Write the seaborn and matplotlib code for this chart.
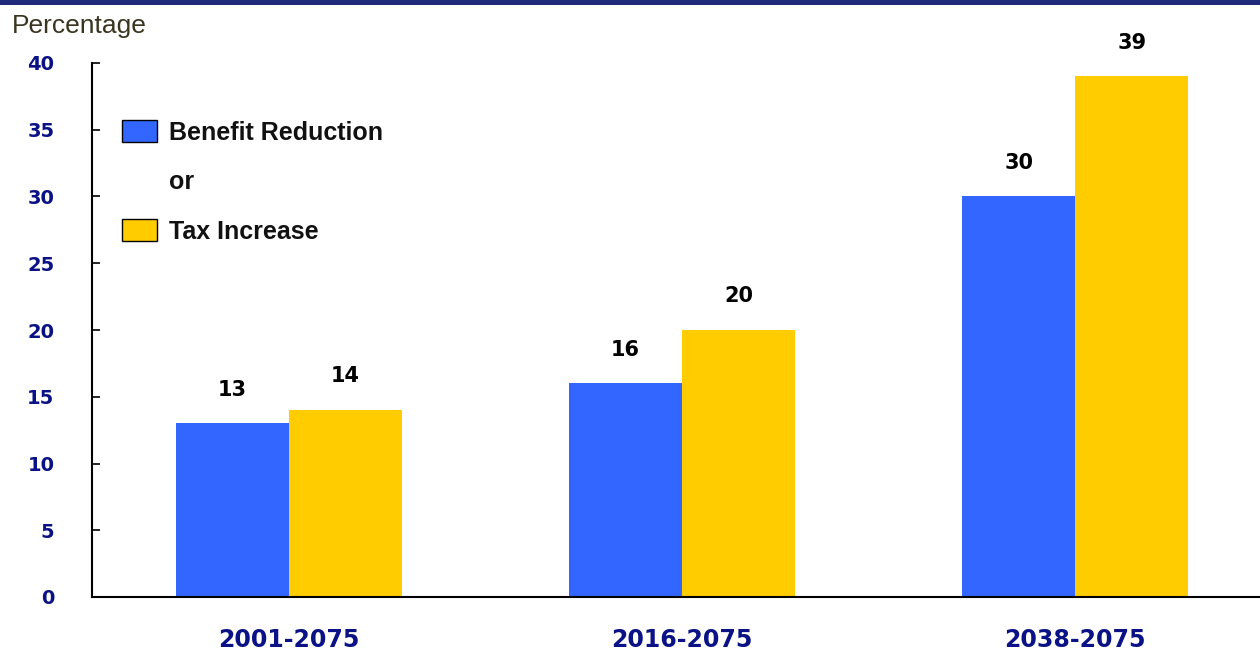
import matplotlib
matplotlib.use("Agg")
import matplotlib.pyplot as plt
import seaborn as sns
import pandas as pd
from matplotlib.patches import Patch, Rectangle

periods = ["2001-2075", "2016-2075", "2038-2075"]
benefit_reduction = [13, 16, 30]
tax_increase = [14, 20, 39]
series_names = ["Benefit Reduction", "Tax Increase"]
y_ticks = [0, 5, 10, 15, 20, 25, 30, 35, 40]

df = pd.DataFrame({
    "period": periods * 2,
    "value": benefit_reduction + tax_increase,
    "series": [series_names[0]] * 3 + [series_names[1]] * 3,
})

sns.set_theme(style="white")
plt.rcParams["font.family"] = ["Liberation Sans", "DejaVu Sans"]

colors = ["#3366FF", "#FFCC00"]
navy = "#0A1285"
wide = "DejaVu Sans"

fig = plt.figure(figsize=(12.6, 6.5), dpi=100)
ax = fig.add_axes([92 / 1260, 1 - 597 / 650, (1260 - 92) / 1260, (597 - 63) / 650])

sns.barplot(data=df, x="period", y="value", hue="series", palette=colors,
            width=0.575, gap=0, ax=ax, legend=False, saturation=1, linewidth=0)

for cont in ax.containers:
    for bar in cont:
        h = bar.get_height()
        ax.annotate(f"{int(h)}", (bar.get_x() + bar.get_width() / 2, h),
                    xytext=(0, 17), textcoords="offset points", ha="center",
                    va="bottom", fontsize=15, fontweight="bold", color="black",
                    family=wide)

ax.set_xlim(-0.5, 2.47)
ax.set_ylim(0, 40)
ax.set_yticks(y_ticks)
ax.set_yticklabels([str(t) for t in y_ticks], fontsize=14, fontweight="bold",
                   color=navy, family=wide)
ax.tick_params(axis="y", direction="in", length=6, width=1.2, pad=27, left=True, color="black")
ax.tick_params(axis="x", length=0, pad=22)
for lbl in ax.get_xticklabels():
    lbl.set_fontsize(17)
    lbl.set_fontweight("bold")
    lbl.set_color(navy)
    lbl.set_family(wide)
ax.set_xlabel("")
ax.set_ylabel("")
for s in ["top", "right"]:
    ax.spines[s].set_visible(False)
for s in ["left", "bottom"]:
    ax.spines[s].set_color("black")
    ax.spines[s].set_linewidth(1.5)
ax.set_facecolor("none")

handles = [Patch(facecolor=colors[0], edgecolor="black", linewidth=1),
           Patch(facecolor="none", edgecolor="none"),
           Patch(facecolor=colors[1], edgecolor="black", linewidth=1)]
leg = ax.legend(handles, [series_names[0], "or", series_names[1]],
                loc="upper left", bbox_to_anchor=(0.006, 0.935), frameon=False,
                prop={"size": 18, "weight": "bold"}, handlelength=1.4,
                handleheight=0.96, labelspacing=1.0, handletextpad=0.5)
for t in leg.get_texts():
    t.set_color("#111111")

fig.text(12 / 1260, 1 - 26 / 650, "Percentage", fontsize=19, color="#3a3520",
         ha="left", va="center")

fig.add_artist(Rectangle((0, 1 - 5 / 650), 1, 5 / 650, transform=fig.transFigure,
                         facecolor="#1F2A7A", edgecolor="none"))

fig.savefig("out.png", dpi=100)
